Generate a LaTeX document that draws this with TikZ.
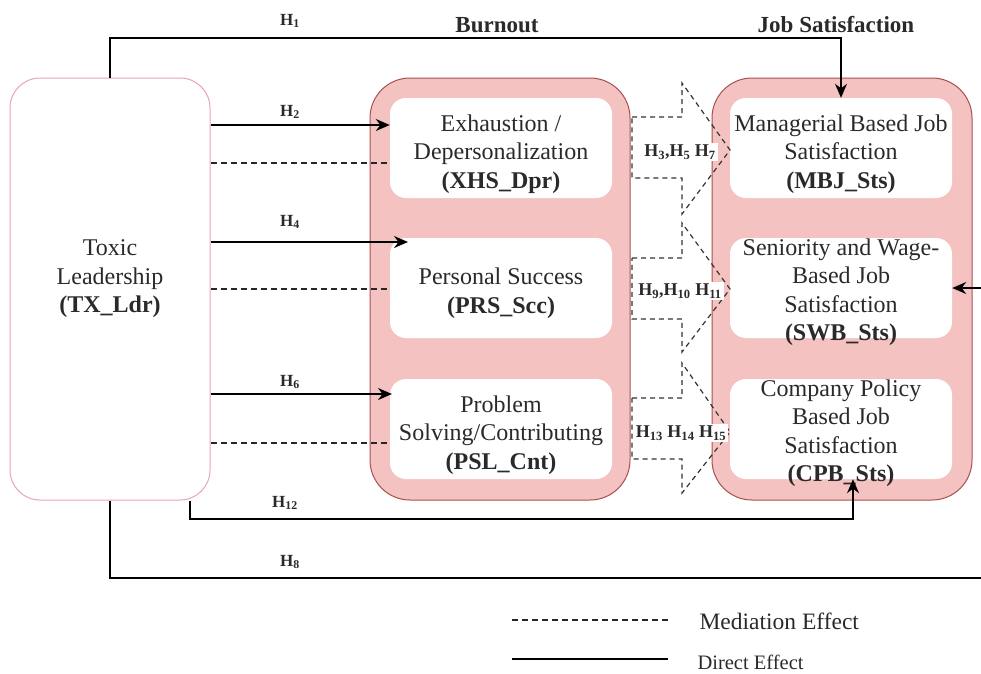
\documentclass[tikz,border=0pt]{standalone}
\usepackage{fontspec}
\setmainfont{Liberation Serif}
\usetikzlibrary{arrows.meta}
\definecolor{burnfill}{HTML}{F4C3C1}
\definecolor{burndraw}{HTML}{A9504D}
\definecolor{toxdraw}{HTML}{E9A3B8}
\definecolor{txt}{HTML}{2A2A2A}
\begin{document}
\begin{tikzpicture}[x=1pt,y=-1pt,
  container/.style={draw=burndraw, fill=burnfill, rounded corners=40pt, line width=1pt,
    minimum width=260pt, minimum height=422pt, inner sep=0pt},
  inbox/.style={fill=white, rounded corners=16pt, minimum width=222pt, minimum height=100pt,
    inner sep=0pt},
  intext/.style={align=center, font=\fontsize{24}{28.5}\selectfont, text=txt, inner sep=0pt},
  hlab/.style={font=\fontsize{17}{20}\selectfont\bfseries, text=txt, inner sep=1pt},
  midlab/.style={font=\fontsize{18}{20}\selectfont\bfseries, text=txt, fill=white, inner sep=2pt},
  title/.style={font=\fontsize{23}{26}\selectfont\bfseries, text=txt},
  direct/.style={line width=1.6pt, draw=black, -{Stealth[length=14pt,width=12pt]}},
  plain/.style={line width=1.3pt, draw=black},
  med/.style={line width=1.2pt, draw=black!85, dash pattern=on 6pt off 4pt},
  blockarrow/.style={line width=1.2pt, draw=black!80, dash pattern=on 5pt off 4pt},
]
\useasboundingbox (0,0) rectangle (981,673);
\fill[white] (0,0) rectangle (981,673);

% Toxic leadership
\node[draw=toxdraw, fill=white, rounded corners=30pt, line width=1pt,
      minimum width=200pt, minimum height=422pt, inner sep=0pt] (tx) at (110,289) {};
\node[intext] (txlab) at (110,279)
  {Toxic\\Leadership\\\textbf{(TX\_Ldr)}};

% containers
\node[container] (bo) at (500,289) {};
\node[container] (js) at (842,289) {};
\node[title] (botitle) at (497,25) {Burnout};
\node[title] (jstitle) at (836,25) {Job Satisfaction};

% inner boxes
\node[inbox] (xhs) at (501,148) {};
\node[inbox] (prs) at (501,288) {};
\node[inbox] (psl) at (501,429) {};
\node[inbox] (mbj) at (841,148) {};
\node[inbox] (swb) at (841,288) {};
\node[inbox] (cpb) at (841,429) {};
\node[intext] (xhsT) at (501,154) {Exhaustion /\\Depersonalization\\\textbf{(XHS\_Dpr)}};
\node[intext] (prsT) at (501,293) {Personal Success\\\textbf{(PRS\_Scc)}};
\node[intext] (pslT) at (501,435) {Problem\\Solving/Contributing\\\textbf{(PSL\_Cnt)}};
\node[intext] (mbjT) at (841,154) {Managerial Based Job\\Satisfaction\\\textbf{(MBJ\_Sts)}};
\node[intext] (swbT) at (841,292) {Seniority and Wage-\\Based Job\\Satisfaction\\\textbf{(SWB\_Sts)}};
\node[intext] (cpbT) at (841,433) {Company Policy\\Based Job\\Satisfaction\\\textbf{(CPB\_Sts)}};

% block arrows (mediation)
\draw[blockarrow] (632,117) -- (682,117) -- (682,83) -- (730,150) -- (682,214) -- (682,178) -- (632,178) -- cycle;
\draw[blockarrow] (632,258) -- (682,258) -- (682,223) -- (730,289) -- (682,352) -- (682,319) -- (632,319) -- cycle;
\draw[blockarrow] (632,398) -- (682,398) -- (682,363) -- (730,432) -- (682,493) -- (682,459) -- (632,459) -- cycle;
\node[midlab] (m1) at (680,152) {H\textsubscript{3},H\textsubscript{5} H\textsubscript{7}};
\node[midlab] (m2) at (680,291) {H\textsubscript{9},H\textsubscript{10} H\textsubscript{11}};
\node[midlab] (m3) at (681,433) {H\textsubscript{13} H\textsubscript{14} H\textsubscript{15}};

% direct effects
\coordinate (h1c) at (110,38);
\draw[direct] (tx.north) -- (h1c) -| (mbj.north);
\node[hlab] (h1) at (290,21) {H\textsubscript{1}};

\draw[direct] (tx.east |- 0,125) -- (xhs.west |- 0,125);
\node[hlab] (h2) at (290,112) {H\textsubscript{2}};
\draw[direct] (tx.east |- 0,242) -- (408,242);
\node[hlab] (h4) at (290,222) {H\textsubscript{4}};
\draw[direct] (tx.east |- 0,394) -- (392,394);
\node[hlab] (h6) at (290,382) {H\textsubscript{6}};

% mediation dashed lines
\draw[med] (tx.east |- 0,163) -- (xhs.west |- 0,163);
\draw[med] (tx.east |- 0,289) -- (prs.west |- 0,289);
\draw[med] (tx.east |- 0,443) -- (psl.west |- 0,443);

% H12
\coordinate (h12c) at (190,519);
\draw[direct] (tx.south -| 190,0) -- (h12c) -| (cpb.south -| 853,0);
\node[hlab] (h12) at (285,503) {H\textsubscript{12}};

% H8
\coordinate (h8a) at (110,578);
\coordinate (h8b) at (986,578);
\draw[direct] (tx.south) -- (h8a) -- (h8b) |- (swb.east);
\node[hlab] (h8) at (290,562) {H\textsubscript{8}};

% legend
\coordinate (l1a) at (512,620);
\coordinate (l1b) at (668,620);
\coordinate (l2a) at (512,659);
\coordinate (l2b) at (668,659);
\draw[med] (l1a) -- (l1b);
\draw[plain] (l2a) -- (l2b);
\node[font=\fontsize{23.5}{26}\selectfont, text=txt, anchor=west] (medtxt) at (696,621) {Mediation Effect};
\node[font=\fontsize{20.5}{24}\selectfont, text=txt, anchor=west] (dirtxt) at (694,662) {Direct Effect};
\end{tikzpicture}
\end{document}
